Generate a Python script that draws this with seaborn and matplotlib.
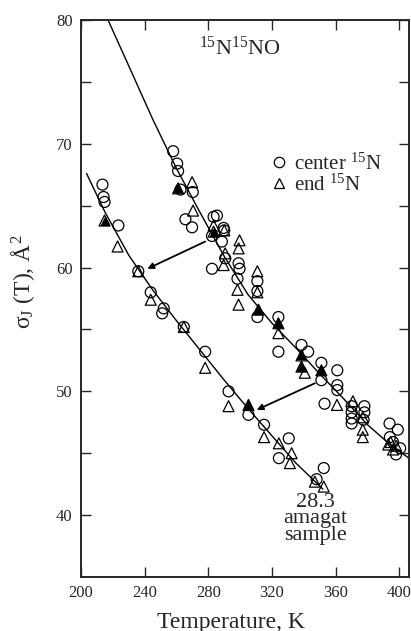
import numpy as np
import pandas as pd
import matplotlib
matplotlib.use("Agg")
import matplotlib.pyplot as plt
from matplotlib.lines import Line2D
import seaborn as sns

# ---------------- data ----------------
# lower series (28.3 amagat sample)
low_center_T = [213.5, 214.2, 214.8, 223.5, 236.0, 243.8, 252.0, 251.0, 264.6, 278.0,
                292.7, 305.2, 315.0, 330.5, 324.3, 348.0, 352.5]
low_center_s = [66.7, 65.7, 65.3, 63.4, 59.7, 58.0, 56.7, 56.3, 55.2, 53.2,
                50.0, 48.1, 47.3, 46.2, 44.6, 42.9, 43.8]
low_end_T = [214.8, 223.0, 236.0, 243.8, 264.6, 278.0, 292.7, 305.2, 315.0, 324.3,
             332.3, 331.2, 346.9, 352.5]
low_end_s = [63.8, 61.7, 59.7, 57.4, 55.2, 51.9, 48.8, 48.9, 46.3, 45.8,
             45.0, 44.2, 42.7, 42.3]

# upper series
up_center_T = [257.9, 260.4, 261.0, 262.5, 270.2, 265.6, 269.8, 283.3, 285.4, 282.3,
               290.0, 288.5, 290.6, 282.3, 299.0, 299.6, 298.3, 310.8, 310.8, 310.8,
               324.0, 324.0, 338.5, 342.7, 351.0, 351.0, 361.0, 361.0, 361.0, 353.0,
               370.0, 370.0, 370.0, 370.0, 378.0, 378.0, 377.5, 393.8, 399.0, 394.0,
               396.0, 397.9, 400.5, 289.6]
up_center_s = [69.4, 68.4, 67.8, 66.3, 66.1, 63.9, 63.25, 64.1, 64.2, 62.55,
               63.0, 62.1, 60.75, 59.9, 60.35, 59.9, 59.1, 58.9, 58.1, 56.0,
               56.0, 53.2, 53.75, 53.2, 52.3, 50.9, 51.7, 50.5, 50.1, 49.0,
               48.8, 48.3, 47.8, 47.4, 48.8, 48.3, 47.7, 47.4, 46.9, 46.3,
               45.9, 44.9, 45.4, 63.2]
up_end_T = [261.0, 269.8, 270.4, 283.3, 283.3, 290.0, 290.6, 289.6, 299.6, 299.0,
            298.3, 299.0, 310.8, 310.8, 311.5, 324.0, 324.0, 338.5, 338.5, 340.6,
            351.0, 360.8, 370.8, 377.0, 377.0, 377.0, 394.5, 396.0, 398.0, 393.0]
up_end_s = [66.4, 66.9, 64.6, 63.4, 62.9, 63.0, 61.15, 60.2, 62.2, 61.55,
            58.2, 57.0, 59.7, 58.0, 56.6, 55.5, 54.7, 52.9, 52.0, 51.5,
            51.7, 48.9, 49.2, 47.9, 46.9, 46.3, 45.9, 45.3, 45.6, 45.7]

# overlapping (dark) end-15N triangles
dense_end_T = [214.8, 261.0, 283.3, 311.5, 324.0, 338.5, 338.5, 351.0, 305.2]
dense_end_s = [63.8, 66.4, 62.9, 56.6, 55.5, 52.9, 52.0, 51.7, 48.9]

# fitted curves
fit_up_T = [217, 230, 245, 260, 275, 290, 305, 320, 335, 350, 365, 380, 395, 406]
fit_up_s = [80.0, 76.3, 72.0, 68.0, 64.4, 60.9, 57.8, 55.5, 53.5, 51.4, 49.4, 47.3, 45.6, 44.6]
fit_low_T = [203.5, 215, 230, 245, 260, 275, 290, 305, 320, 335, 352]
fit_low_s = [67.6, 64.5, 61.0, 58.2, 55.7, 53.3, 50.9, 48.6, 46.4, 44.2, 42.1]

x_ticks = [200, 240, 280, 320, 360, 400]
y_ticks = [40, 50, 60, 70, 80]

# ---------------- frames ----------------
pts = pd.DataFrame({
    "T": low_center_T + up_center_T + low_end_T + up_end_T,
    "sigma": low_center_s + up_center_s + low_end_s + up_end_s,
    "kind": (["center"] * (len(low_center_T) + len(up_center_T)) +
             ["end"] * (len(low_end_T) + len(up_end_T))),
})
dense = pd.DataFrame({"T": dense_end_T, "sigma": dense_end_s})
fit_up = pd.DataFrame({"T": fit_up_T, "sigma": fit_up_s})
fit_low = pd.DataFrame({"T": fit_low_T, "sigma": fit_low_s})

# ---------------- style ----------------
sns.set_style("ticks")
plt.rcParams["font.family"] = ["Liberation Serif", "DejaVu Serif"]
plt.rcParams["mathtext.fontset"] = "custom"
plt.rcParams["mathtext.rm"] = "Liberation Serif"
plt.rcParams["mathtext.it"] = "Liberation Serif:italic"
plt.rcParams["mathtext.bf"] = "Liberation Serif:bold"

fig = plt.figure(figsize=(4.11, 6.31), dpi=100)
ax = fig.add_axes([0.197, 0.0856, 0.798, 0.8827])

sns.lineplot(data=fit_up, x="T", y="sigma", color="black", lw=1.0, ax=ax,
             sort=False, estimator=None)
sns.lineplot(data=fit_low, x="T", y="sigma", color="black", lw=1.0, ax=ax,
             sort=False, estimator=None)

sns.scatterplot(data=pts[pts.kind == "center"], x="T", y="sigma", marker="o", s=62,
                color="black", facecolor="none", edgecolor="black", linewidth=0.9,
                ax=ax, legend=False, zorder=3)
sns.scatterplot(data=pts[pts.kind == "end"], x="T", y="sigma", marker="^", s=62,
                color="black", facecolor="none", edgecolor="black", linewidth=0.9,
                ax=ax, legend=False, zorder=3)
sns.scatterplot(data=dense, x="T", y="sigma", marker="^", s=34,
                color="black", facecolor="black", edgecolor="black", linewidth=0.9,
                ax=ax, legend=False, zorder=3)

# arrows
arrow_kw = dict(arrowstyle="-|>", lw=1.3, color="black", mutation_scale=9,
                shrinkA=0, shrinkB=0)
ax.annotate("", xy=(241.7, 59.9), xytext=(278.0, 62.1), arrowprops=arrow_kw)
ax.annotate("", xy=(310.4, 48.5), xytext=(346.9, 50.65), arrowprops=arrow_kw)

# texts
ax.text(300, 77.7, r"$^{15}$N$^{15}$NO", ha="center", va="center", fontsize=16)
ax.text(347.5, 39.7, "28.3\namagat\nsample", ha="center", va="center",
        fontsize=16, linespacing=0.8)

handles = [
    Line2D([], [], marker="o", ls="none", mfc="none", mec="black", ms=7.5, mew=0.9),
    Line2D([], [], marker="^", ls="none", mfc="none", mec="black", ms=6.5, mew=0.9),
]
labels = [r"center $^{15}$N", r"end $^{15}$N"]
ax.legend(handles, labels, loc="upper left", bbox_to_anchor=(0.575, 0.761),
          frameon=False, fontsize=15, handlelength=0.95, handletextpad=0.2,
          labelspacing=0.0, borderpad=0, borderaxespad=0)

# axes
ax.set_xlim(200, 406)
ax.set_ylim(35, 80)
ax.set_xticks(x_ticks)
ax.set_yticks(y_ticks)
ax.set_yticks([45, 55, 65, 75], minor=True)
ax.tick_params(which="both", direction="in", top=True, right=True, length=7,
               width=1.0, labelsize=12, pad=6)
for sp in ax.spines.values():
    sp.set_linewidth(1.4)
    sp.set_visible(True)

ax.set_xlabel("Temperature, K", fontsize=17)
ax.set_ylabel(r"σ$_\mathrm{J}$ (T), Å$^2$", fontsize=17)
ax.xaxis.set_label_coords(0.457, -0.062)
ax.yaxis.set_label_coords(-0.135, 0.53)

fig.savefig("out.png", dpi=100)
